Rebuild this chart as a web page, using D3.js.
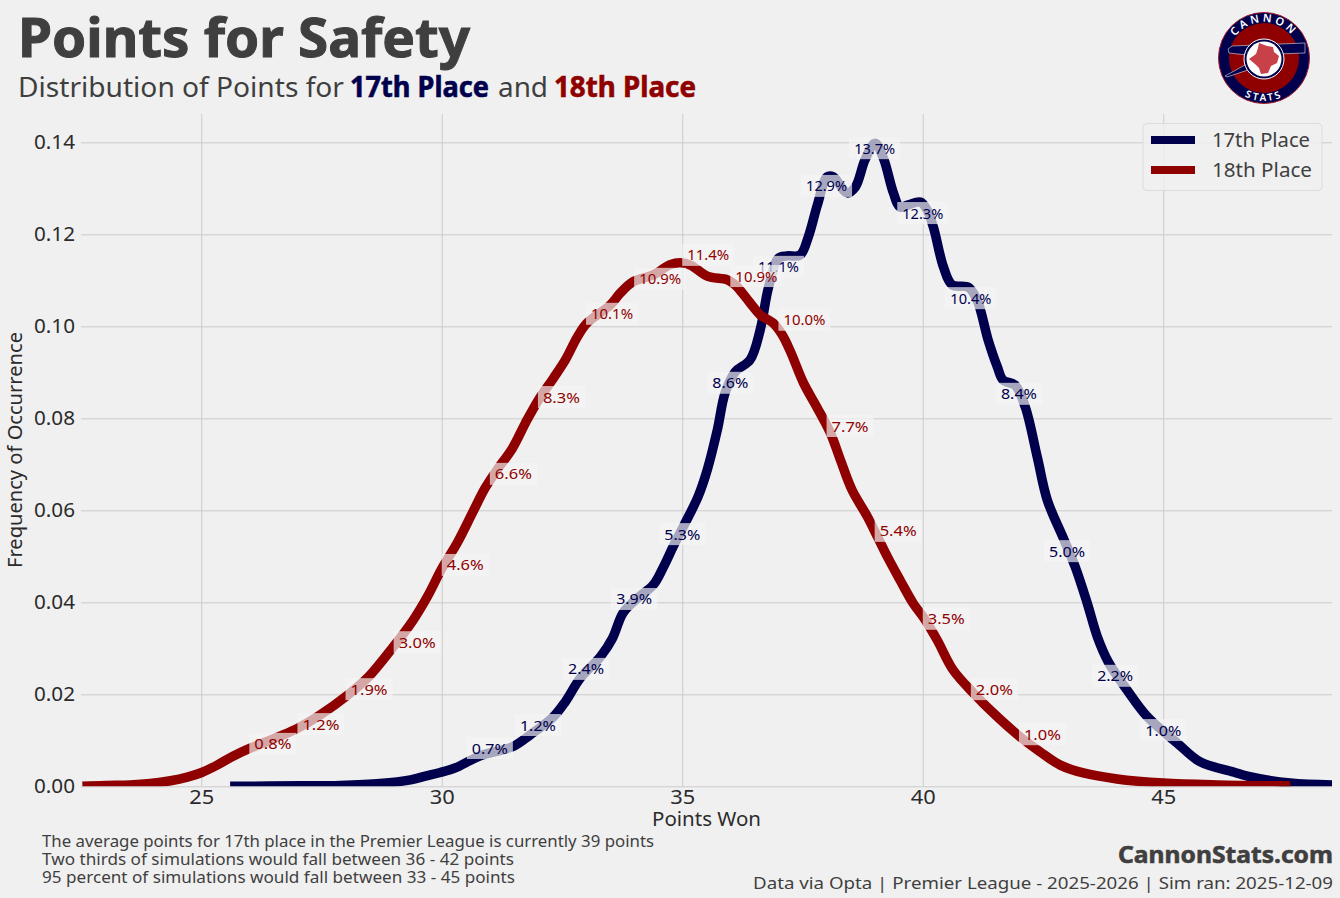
<!DOCTYPE html>
<html><head><meta charset="utf-8">
<script src="https://cdn.jsdelivr.net/npm/d3@7"></script>
<style>html,body{margin:0;padding:0;background:#f0f0f0}svg{display:block}text{font-family:"Noto Sans",sans-serif}</style>
</head><body><svg id="c" width="1340" height="898"></svg>
<script>
const x17=[25.6,27.06,27.89,28.72,29.35,29.66,29.97,30.28,30.59,30.84,31.47,31.84,32.32,32.57,32.88,33.3,33.55,33.77,34.07,34.4,34.61,34.81,35.02,35.33,35.52,35.73,35.89,36.1,36.41,36.62,36.79,37,37.18,37.45,37.62,37.81,38.01,38.14,38.43,38.6,38.8,39.01,39.18,39.39,39.53,39.7,39.95,40.09,40.22,40.43,40.61,40.95,41.13,41.36,41.55,41.67,41.92,42.13,42.38,42.59,42.92,43.17,43.42,43.63,43.86,44.25,44.67,45.29,45.77,46.46,46.75,47.64,48.51];
const y17=[0,.0001,.0002,.0006,.0014,.0022,.003,.004,.0056,.0068,.0086,.0112,.0151,.0184,.0235,.0282,.0322,.0377,.0409,.0438,.0477,.0521,.0564,.063,.0688,.0775,.0855,.0901,.0927,.0992,.1083,.1148,.1153,.1155,.1194,.1264,.1325,.1325,.129,.1303,.1362,.1398,.1366,.129,.1259,.1264,.127,.1253,.1216,.1129,.109,.1085,.1057,.097,.0912,.0883,.0872,.0825,.0716,.0622,.054,.0477,.0398,.0325,.027,.0209,.0151,.0094,.0053,.0031,.0022,.0007,.0003];
const x18=[22.53,23,23.52,23.94,24.36,24.71,25.01,25.33,25.67,26.02,26.64,27.02,27.47,28.04,28.45,28.99,29.41,29.7,30.01,30.32,30.65,30.9,31.15,31.47,31.74,32.01,32.32,32.57,32.82,33.02,33.5,33.71,33.98,34.4,34.75,34.96,35.17,35.52,35.94,36.1,36.41,36.62,36.89,37.08,37.25,37.52,37.81,38.08,38.29,38.53,38.85,39.07,39.28,39.53,39.8,40.05,40.3,40.63,41.05,41.55,42.03,42.44,42.86,43.34,44.04,45,46.12,47.64];
const y18=[0,.0002,.0003,.0006,.0012,.002,.003,.0046,.0066,.0083,.0109,.0127,.0155,.0198,.0235,.0303,.0362,.0412,.0475,.0529,.0597,.0648,.0688,.0735,.079,.084,.0887,.0927,.0977,.1007,.1046,.1072,.1097,.1112,.1134,.1138,.1133,.1109,.1101,.109,.1051,.1025,.1007,.0981,.0945,.0877,.0822,.0768,.0709,.0644,.0586,.054,.0496,.0448,.0398,.0362,.0318,.0253,.0203,.0151,.0107,.0075,.0046,.0029,.0016,.0007,.0003,.0001];
const labelX17=[31,32,33,34,35,36,37,38,39,40,41,42,43,44,45];
const labelText17=["0.7%","1.2%","2.4%","3.9%","5.3%","8.6%","11.1%","12.9%","13.7%","12.3%","10.4%","8.4%","5.0%","2.2%","1.0%"];
const labelY17=[.0068,.0118,.024,.0392,.0533,.0862,.1114,.129,.1372,.1231,.1046,.0838,.0496,.0225,.0107];
const labelX18=[26,27,28,29,30,31,32,33,34,35,36,37,38,39,40,41,42];
const labelText18=["0.8%","1.2%","1.9%","3.0%","4.6%","6.6%","8.3%","10.1%","10.9%","11.4%","10.9%","10.0%","7.7%","5.4%","3.5%","2.0%","1.0%"];
const labelY18=[.0077,.012,.0196,.0298,.0466,.0664,.0831,.1012,.1088,.114,.1094,.0999,.0768,.054,.0349,.0196,.0098];
const xTicks=[25,30,35,40,45];
const yTicks=[0,.02,.04,.06,.08,.1,.12,.14];
const seriesNames=["17th Place","18th Place"];
const footNotes=["The average points for 17th place in the Premier League is currently 39 points","Two thirds of simulations would fall between 36 - 42 points","95 percent of simulations would fall between 33 - 45 points"];

const NAVY="#00004d",RED="#8f0000",INK="#3f3f3f",GRID="#cbcbcb",COND='"Noto Sans",sans-serif';
const L=81,R=1332,T=114,B=786.3;
const svg=d3.select("#c");
svg.append("rect").attr("width",1340).attr("height",898).attr("fill","#f0f0f0");
const xS=d3.scaleLinear().domain([22.5,48.5]).range([L,L+26*48.1]);
const yS=d3.scaleLinear().domain([0,.14]).range([B,B-644]);
svg.append("clipPath").attr("id","pl").append("rect").attr("x",L).attr("y",T).attr("width",R-L).attr("height",B-T);

function txt(s,x,y,o){
  const t=svg.append("text").attr("x",x).attr("y",y).text(s)
   .attr("font-size",o.size).attr("fill",o.fill||INK).attr("text-anchor",o.anchor||"start");
  if(o.w){t.attr("textLength",o.w).attr("lengthAdjust","spacingAndGlyphs");}
  if(o.weight)t.attr("font-weight",o.weight);
  if(o.font)t.style("font-family",o.font);
  if(o.heavy)t.attr("stroke",o.fill||INK).attr("stroke-width",o.heavy);
  if(o.rot)t.attr("transform",`rotate(${o.rot} ${x} ${y})`);
  return t;
}
// axes + grid
const gx=svg.append("g").attr("transform",`translate(0,${B})`).call(d3.axisBottom(xS).tickValues(xTicks).tickSize(-(B-T)).tickPadding(4).tickFormat(d3.format("d")));
const gy=svg.append("g").attr("transform",`translate(${L},0)`).call(d3.axisLeft(yS).tickValues(yTicks).tickSize(-(R-L)).tickPadding(6).tickFormat(d3.format(".2f")));
[gx,gy].forEach(g=>{g.select(".domain").remove();
  g.selectAll("line").attr("stroke",GRID).attr("stroke-width",1);
  g.selectAll("text").attr("fill","#2b2b2b").attr("font-size",19).style("font-family",'"Noto Sans",sans-serif');});
gx.selectAll("text").attr("textLength",25).attr("lengthAdjust","spacingAndGlyphs");
gy.selectAll("text").attr("textLength",41).attr("lengthAdjust","spacingAndGlyphs");

// lines
const line=d3.line().x(d=>xS(d[0])).y(d=>yS(d[1])).curve(d3.curveCatmullRom.alpha(.5));
const gl=svg.append("g").attr("clip-path","url(#pl)");
gl.append("path").attr("d",line(d3.zip(x17,y17))).attr("fill","none").attr("stroke",NAVY).attr("stroke-width",9.5).attr("stroke-linejoin","round");
gl.append("path").attr("d",line(d3.zip(x18,y18))).attr("fill","none").attr("stroke",RED).attr("stroke-width",9.5).attr("stroke-linejoin","round");

// labels
const LY=-7;
labelX17.forEach((v,i)=>{
  const s=labelText17[i],w=s.length>4?41:36,cx=xS(v),cy=yS(labelY17[i])+LY;
  svg.append("rect").attr("x",cx-w/2-5).attr("y",cy-11).attr("width",w+10).attr("height",22).attr("fill","#f4f4f4").attr("fill-opacity",.68);
  txt(s,cx,cy+5.5,{size:15,fill:NAVY,anchor:"middle",w});
});
labelX18.forEach((v,i)=>{
  const s=labelText18[i],w=s.length>4?42:37,cx=xS(v),cy=yS(labelY18[i])+LY;
  svg.append("rect").attr("x",cx).attr("y",cy-11).attr("width",w+10).attr("height",22).attr("fill","#f4f4f4").attr("fill-opacity",.68);
  txt(s,cx+5,cy+5.5,{size:15,fill:RED,w});
});

// legend
svg.append("rect").attr("x",1143).attr("y",123.5).attr("width",179).attr("height",67).attr("rx",4).attr("fill","#f0f0f0").attr("fill-opacity",.8).attr("stroke","#dcdcdc").attr("stroke-width",1);
[[NAVY,140,98],[RED,170,100]].forEach((d,i)=>{
  svg.append("rect").attr("x",1151).attr("y",d[1]-4).attr("width",44).attr("height",8).attr("fill",d[0]);
  txt(seriesNames[i],1212,d[1]+7,{size:19,w:d[2]});
});

// headings
txt("Points for Safety",18,57,{size:53,weight:700,font:COND,w:452,heavy:1});
txt("Distribution of Points for",18,97,{size:28,font:COND,w:326});
txt("17th Place",350,97,{size:28,weight:700,font:COND,fill:NAVY,w:139,heavy:.6});
txt("and",498,97,{size:28,font:COND,w:50});
txt("18th Place",554,97,{size:28,weight:700,font:COND,fill:RED,w:142,heavy:.6});
txt("Frequency of Occurrence",22,568,{size:19,rot:-90,font:COND,fill:"#2b2b2b",w:236});
txt("Points Won",652,826,{size:20,font:COND,fill:"#2b2b2b",w:109});
[[612,847],[472,865],[473,883]].forEach((d,i)=>txt(footNotes[i],42,d[1],{size:16,font:COND,w:d[0]}));
txt("CannonStats.com",1118,863,{size:24,weight:700,font:COND,w:215,heavy:.6});
txt("Data via Opta | Premier League - 2025-2026 | Sim ran: 2025-12-09",753,889,{size:17,font:COND,w:580});

// badge
const b=svg.append("g").attr("transform","translate(1264,58)");
b.append("circle").attr("r",45.5).attr("fill",NAVY).attr("stroke","#a02030").attr("stroke-width",1);
b.append("circle").attr("r",35).attr("fill",RED);
b.append("path").attr("d","M-36,-9 L-32,-12 L41,-15 L41,-5 L-17,-3 L-35,-5 Z").attr("fill",NAVY).attr("stroke","#dfe3f0").attr("stroke-width",.6);
b.append("path").attr("d","M-39,18 L-19,7 L-16,12 L-37,19 Z").attr("fill",NAVY).attr("stroke","#dfe3f0").attr("stroke-width",.6);
b.append("circle").attr("cy",1).attr("r",20).attr("fill",NAVY).attr("stroke","#fff").attr("stroke-width",1);
b.append("circle").attr("cy",1).attr("r",17.5).attr("fill","#fff");
b.append("path").attr("d","M-5,-15 L3,-12 L9,-11 L10,-6 L15,-2 L13,5 L7,8 L4,15 L-3,16 L-5,10 L-9,6 L-15,1 L-8,-4 L-6,-10 Z").attr("fill","#c84048");
b.append("path").attr("id","arcTop").attr("d","M-36,0 A36,36 0 0 1 36,0").attr("fill","none");
b.append("path").attr("id","arcBot").attr("d","M-43,0 A43,43 0 0 0 43,0").attr("fill","none");
b.append("text").attr("font-size",11).attr("font-weight",600).attr("fill","#fff").attr("text-anchor","middle").attr("letter-spacing",3).append("textPath").attr("href","#arcTop").attr("startOffset","50%").text("CANNON");
b.append("text").attr("font-size",10).attr("font-weight",600).attr("fill","#fff").attr("text-anchor","middle").attr("letter-spacing",2.5).append("textPath").attr("href","#arcBot").attr("startOffset","50%").text("STATS");
</script></body></html>
